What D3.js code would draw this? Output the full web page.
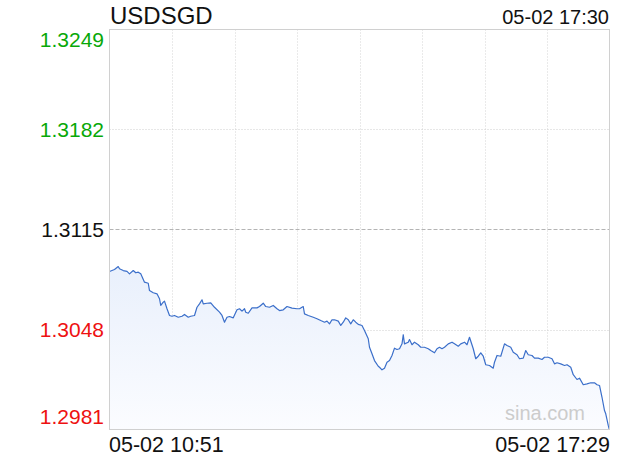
<!DOCTYPE html>
<html>
<head>
<meta charset="utf-8">
<script src="https://cdn.jsdelivr.net/npm/d3@7"></script>
<style>
  html, body { margin: 0; padding: 0; background: #fff; }
  svg { display: block; font-family: "Liberation Sans", Arial, Helvetica, sans-serif; }
</style>
</head>
<body>
<svg id="chart" width="620" height="460"></svg>
<script>
// ---- data (minutes after 10:51, price) ----
const symbol = "USDSGD";
const headerTime = "05-02 17:30";
const xTickLabels = ["05-02 10:51", "05-02 17:29"];
const yTickValues = [1.3249, 1.3182, 1.3115, 1.3048, 1.2981];
const prevClose = 1.3115;
const minutes = [0,4,7,8,11,14,16,19,21,23,25,28,31,32,35,38,40,41,43,44,46,48,50,52,55,58,60,63,65,68,70,72,74,75,78,81,84,88,90,92,94,96,99,102,104,106,108,109,111,114,118,120,123,125,128,131,134,136,139,142,146,150,152,155,156,159,163,166,169,172,174,176,178,180,183,185,187,189,191,193,195,197,199,202,204,207,208,210,212,215,216,218,220,222,224,226,228,230,232,234,235,236,239,240,242,244,247,249,252,255,257,260,262,264,266,268,271,274,276,279,281,284,286,288,291,293,295,297,299,301,304,307,308,310,313,316,318,321,323,326,328,331,333,335,338,340,343,346,348,351,354,356,358,361,364,366,369,371,374,376,379,382,385,388,390,392,394,396,397,399,400];
const prices = [1.30869,1.30882,1.30902,1.30887,1.30875,1.30869,1.30853,1.30875,1.30860,1.30864,1.30853,1.30797,1.30790,1.30741,1.30726,1.30719,1.30686,1.30641,1.30663,1.30670,1.30619,1.30574,1.30569,1.30574,1.30562,1.30569,1.30581,1.30562,1.30569,1.30574,1.30629,1.30652,1.30679,1.30652,1.30656,1.30659,1.30629,1.30596,1.30574,1.30529,1.30562,1.30567,1.30558,1.30612,1.30619,1.30603,1.30619,1.30596,1.30589,1.30625,1.30625,1.30634,1.30656,1.30634,1.30629,1.30641,1.30619,1.30607,1.30612,1.30634,1.30623,1.30619,1.30619,1.30634,1.30585,1.30574,1.30562,1.30552,1.30540,1.30529,1.30536,1.30518,1.30545,1.30545,1.30536,1.30507,1.30529,1.30558,1.30545,1.30518,1.30545,1.30529,1.30514,1.30507,1.30473,1.30418,1.30361,1.30317,1.30272,1.30234,1.30227,1.30210,1.30221,1.30261,1.30272,1.30306,1.30355,1.30346,1.30351,1.30384,1.30445,1.30384,1.30395,1.30413,1.30378,1.30395,1.30378,1.30361,1.30361,1.30351,1.30339,1.30324,1.30351,1.30361,1.30351,1.30361,1.30384,1.30395,1.30384,1.30368,1.30384,1.30395,1.30378,1.30428,1.30351,1.30284,1.30301,1.30324,1.30301,1.30244,1.30239,1.30221,1.30261,1.30306,1.30301,1.30384,1.30373,1.30361,1.30328,1.30311,1.30284,1.30288,1.30339,1.30311,1.30306,1.30288,1.30288,1.30279,1.30294,1.30294,1.30284,1.30250,1.30257,1.30250,1.30239,1.30244,1.30227,1.30177,1.30145,1.30154,1.30110,1.30116,1.30123,1.30123,1.30110,1.30105,1.30026,1.29937,1.29915,1.29837,1.29805];

const data = minutes.map((m, i) => ({ t: m, v: prices[i] }));

const svg = d3.select("#chart");
const L = 109.5, R = 609.5, T = 29.5, B = 429.5;

const x = d3.scaleLinear().domain([0, 400]).range([L, R]);
const y = d3.scaleLinear().domain([yTickValues[4], yTickValues[0]]).range([B, T]);

const defs = svg.append("defs");
const grad = defs.append("linearGradient").attr("id", "fillGrad")
  .attr("gradientUnits", "userSpaceOnUse")
  .attr("x1", 0).attr("y1", y(1.3090)).attr("x2", 0).attr("y2", B);
grad.append("stop").attr("offset", "0%").attr("stop-color", "#e9f0fc");
grad.append("stop").attr("offset", "100%").attr("stop-color", "#fbfcff");

defs.append("clipPath").attr("id", "plotClip").append("rect")
  .attr("x", L).attr("y", T).attr("width", R - L).attr("height", B - T);

// vertical grid
const vTicks = d3.range(1, 8).map(i => i * 50);
svg.append("g").selectAll("line").data(vTicks).join("line")
  .attr("x1", d => Math.round(x(d)) + 0.5).attr("x2", d => Math.round(x(d)) + 0.5)
  .attr("y1", T).attr("y2", B)
  .attr("stroke", "#d4d4d4").attr("stroke-width", 1).attr("stroke-dasharray", "1,2");

// horizontal grid
svg.append("g").selectAll("line").data(yTickValues.slice(1, 4)).join("line")
  .attr("x1", L).attr("x2", R)
  .attr("y1", d => Math.round(y(d)) + 0.5).attr("y2", d => Math.round(y(d)) + 0.5)
  .attr("stroke", d => d === prevClose ? "#b4b4b4" : "#cfcfcf")
  .attr("stroke-width", 1)
  .attr("stroke-dasharray", d => d === prevClose ? "4,2" : "1,2");

// area + line
const area = d3.area().x(d => x(d.t)).y0(B).y1(d => y(d.v));
const line = d3.line().x(d => x(d.t)).y(d => y(d.v));
const g = svg.append("g").attr("clip-path", "url(#plotClip)");
g.append("path").datum(data).attr("d", area).attr("fill", "url(#fillGrad)");
g.append("path").datum(data).attr("d", line)
  .attr("fill", "none").attr("stroke", "#3b6fca").attr("stroke-width", 1.2)
  .attr("stroke-linejoin", "round");

// border
svg.append("rect").attr("x", L).attr("y", T).attr("width", R - L).attr("height", B - T)
  .attr("fill", "none").attr("stroke", "#d0d0d0").attr("stroke-width", 1);

// watermark
svg.append("text").attr("x", 585).attr("y", 420).attr("text-anchor", "end")
  .attr("font-size", 20).attr("fill", "#cccccc").text("sina.com");

// y labels
const yColor = v => v > prevClose ? "#08a808" : (v < prevClose ? "#ee1111" : "#111");
svg.append("g").selectAll("text").data(yTickValues).join("text")
  .attr("x", 104).attr("text-anchor", "end")
  .attr("y", (d, i) => i === 0 ? T + 17.5 : (i === 4 ? B - 5.5 : y(d) + 7))
  .attr("font-size", 21).attr("fill", d => yColor(d))
  .text(d => d.toFixed(4));

// title & header time
svg.append("text").attr("x", 110).attr("y", 24).attr("font-size", 24).attr("fill", "#111").text(symbol);
svg.append("text").attr("x", 609).attr("y", 24).attr("text-anchor", "end")
  .attr("font-size", 20).attr("fill", "#111").text(headerTime);

// x labels
svg.append("text").attr("x", 109).attr("y", 452).attr("font-size", 21.5).attr("fill", "#111").text(xTickLabels[0]);
svg.append("text").attr("x", 610).attr("y", 452).attr("text-anchor", "end").attr("font-size", 21.5).attr("fill", "#111").text(xTickLabels[1]);
</script>
</body>
</html>
